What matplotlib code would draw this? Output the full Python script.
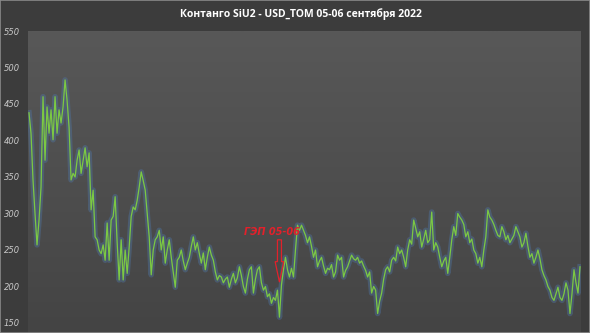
import matplotlib.pyplot as plt
import matplotlib.patches as patches
import numpy as np

# contango values
seg_a = [438, 410, 346, 300, 257, 291, 336, 460, 373, 446, 410, 442, 401, 460,
         410, 442, 424, 446, 483, 455, 418]
seg_b = [346, 355, 350, 373, 387, 355, 373, 390, 364, 383, 305, 332, 268]
seg_c = [264, 250, 245, 257, 236, 287, 236, 291, 296, 323, 260, 209, 264, 209,
         250, 218, 254, 296, 309, 305, 318, 336, 357, 345, 332, 300, 268]
seg_d = [216, 250, 264, 268, 277, 250, 268, 232, 250, 264, 240, 220, 199, 236,
         240, 250, 235, 223, 232, 240, 255, 268, 250, 260, 245]
seg_e = [232, 246, 223, 240, 254, 243, 236, 220, 209, 215, 213, 205, 210, 213,
         199, 210, 218, 205, 212, 227, 215, 200, 191, 210, 223]
seg_f = [227, 191, 210, 223, 227, 205, 195, 200, 186, 190, 177, 185, 181, 195,
         158, 202, 223, 240, 223, 213, 225, 213, 250, 284, 277]
seg_g = [284, 277, 270, 260, 268, 255, 240, 250, 227, 235, 240, 228, 218, 225,
         223, 230, 213, 220, 243, 236, 240, 213, 222, 227, 235, 243, 238, 236,
         240, 232, 235, 228, 222, 213, 220]
seg_h = [191, 200, 195, 163, 180, 191, 210, 223, 227, 220, 236, 240, 235, 254,
         245, 250, 240, 227, 250, 264, 258, 291, 280]
seg_i = [268, 275, 254, 265, 277, 260, 264, 302, 250, 260, 254, 240, 227, 235,
         240, 218, 240, 264, 282, 270, 300, 295]
seg_j = [291, 285, 268, 275, 260, 265, 250, 245, 232, 240, 227, 250, 268, 305,
         295, 291, 285, 277, 270, 268, 282, 275, 264, 270, 260, 265, 270, 282,
         275, 268]
seg_k = [254, 260, 273, 255, 240, 245, 232, 240, 250, 238, 223, 215, 209, 200,
         195, 185, 181, 190, 199, 185, 181, 190, 205, 195, 163, 190, 223, 205,
         191, 227]

values = seg_a + seg_b + seg_c + seg_d + seg_e + seg_f + seg_g + seg_h + seg_i + seg_j + seg_k
y_ticks = [150, 200, 250, 300, 350, 400, 450, 500, 550]
title = "Контанго SiU2 - USD_TOM 05-06 сентября 2022"
gap_label = "ГЭП 05-06"
gap_index = 125

fig = plt.figure(figsize=(5.9, 3.33), dpi=100)
fig.patch.set_facecolor('#3c3c3c')
ax = fig.add_axes([28 / 590, 0, 553 / 590, 1 - 31 / 333])

x = np.arange(len(values))
ax.set_xlim(-0.5, len(values) - 0.5)
ax.set_ylim(136.3, 550)

# plot area gradient, lighter at the top
grad = np.linspace(0, 1, 256).reshape(-1, 1)
cmap = plt.matplotlib.colors.LinearSegmentedColormap.from_list('bg', ['#444444', '#585858'])
ax.imshow(grad, extent=[0, 1, 0, 1], transform=ax.transAxes, cmap=cmap,
          aspect='auto', origin='lower', zorder=0)

# glow underneath, then the line
ax.plot(x, values, color='#4f77a8', lw=4.0, alpha=0.4, zorder=2, solid_joinstyle='round')
ax.plot(x, values, color='#7cc943', lw=0.9, zorder=3)

ax.set_yticks(y_ticks)
ax.set_yticklabels([str(v) for v in y_ticks], fontsize=6, style='italic',
                   color='#c8c8c8')
ax.tick_params(axis='y', length=0, pad=6)
ax.set_xticks([])
for s in ax.spines.values():
    s.set_visible(False)

# gap annotation
red = '#e2212b'
ax.text(gap_index - 4, 274, gap_label, color=red, fontsize=7, fontweight='bold',
        style='italic', ha='center', va='center', zorder=4)
arrow = patches.FancyArrow(gap_index, 264, 0, -58, width=2.0, head_width=4.3,
                           head_length=28, length_includes_head=True,
                           fill=False, ec=red, lw=0.9, zorder=4)
ax.add_patch(arrow)

fig.text(0.51, 1 - 14 / 333, title, color='white', fontsize=7.5, fontweight='bold',
         family='Open Sans', ha='center', va='center')

# thin frame round the picture
fig.patches.append(patches.Rectangle((0, 0), 1, 1, transform=fig.transFigure,
                                     fill=False, ec='#8a8a8a', lw=1.2))

fig.savefig('out.png', dpi=100, facecolor=fig.get_facecolor())
